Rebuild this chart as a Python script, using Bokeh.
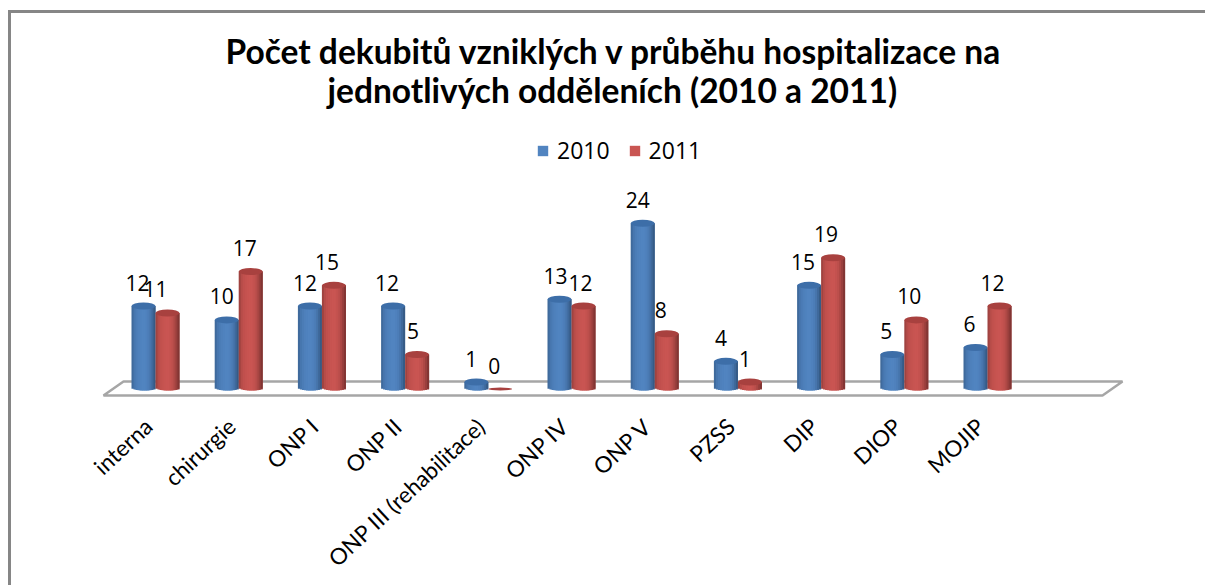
import math
from bokeh.plotting import figure
from bokeh.models import Range1d, FixedTicker, ColumnDataSource, Legend, LegendItem, Title, InlineStyleSheet
from bokeh.core.properties import value
from bokeh.embed import file_html
from bokeh.resources import INLINE

categories = ["interna", "chirurgie", "ONP I", "ONP II", "ONP III (rehabilitace)", "ONP IV", "ONP V", "PZSS", "DIP", "DIOP", "MOJIP"]
v2010 = [12, 10, 12, 12, 1, 13, 24, 4, 15, 5, 6]
v2011 = [11, 17, 15, 5, 0, 12, 8, 1, 19, 10, 12]
label_dx_2010 = [-6, -5, -5, -6, -5, -4, -5, -5, -6, -6, -6]
label_dx_2011 = [-12, -6, -7, -4, -6, -3, -6, -5, -7, -7, -7]

blue_shades = ["#3f6a9c", "#4776ae", "#4b7cb6", "#4e80bb", "#4f82be", "#5184c0", "#5184c0", "#4f81bd", "#4c7db7", "#4775ac", "#3f699b", "#365b86"]
red_shades = ["#a04340", "#b64c49", "#c0504d", "#c4524f", "#c75451", "#c95552", "#c95552", "#c4524f", "#bc4f4c", "#ad4845", "#993f3d", "#823533"]
blue_top, red_top = "#3d6ea8", "#a8413f"

W, H = 1205, 585
FT, FB = 109, 398          # frame top/bottom in figure px
PX_PER_CAT, PX_PER_UNIT = 83.2, 6.91
CX, CY = 155.0, 388.5      # position of first category, zero level in figure px
BAR_PX = 24

x_range = Range1d(-CX / PX_PER_CAT, (W - CX) / PX_PER_CAT)
y_range = Range1d((CY - FB) / PX_PER_UNIT, (CY - FT) / PX_PER_UNIT)

frame_css = InlineStyleSheet(css=""":host::before { content: ""; position: absolute; left: 8px; top: 10px; right: 0; bottom: 0;
  border-left: 3px solid #868686; border-top: 3px solid #868686; z-index: 5; pointer-events: none; }""")

p = figure(width=W, height=H, x_range=x_range, y_range=y_range, output_backend="svg", toolbar_location=None,
           min_border_left=0, min_border_right=0, min_border_top=FT, min_border_bottom=H - FB,
           background_fill_color="white", border_fill_color="white", outline_line_color=None,
           stylesheets=[frame_css])
p.grid.visible = False
p.yaxis.visible = False

for line, off, so in (("jednotlivých odděleních (2010 a 2011)", 327, 0),
                      ("Počet dekubitů vzniklých v průběhu hospitalizace na", 225, -7)):
    p.add_layout(Title(text=line, align="left", offset=off, text_font="Lato", text_font_size="33.5px",
                       text_font_style="bold", text_color="#000000", standoff=so), "above")

# the category axis sits just left of the centre of each group
c = 1 / PX_PER_CAT
p.extra_x_ranges["labels"] = Range1d(x_range.start + 7 * c, x_range.end + 7 * c)
ax = p.xaxis[0]
ax.x_range_name = "labels"
ax.ticker = FixedTicker(ticks=list(range(len(categories))))
ax.major_label_overrides = {i: t for i, t in enumerate(categories)}
ax.major_label_orientation = 0.75
ax.major_label_text_font = "Lato"
ax.major_label_text_font_size = "22.5px"
ax.major_label_text_color = "#000000"
ax.major_label_standoff = 18
ax.axis_line_color = None
ax.major_tick_line_color = None
ax.minor_tick_line_color = None

# floor of the 3-D plot
n = len(categories)
u = 1 / PX_PER_UNIT
fy = [-6.5 * u, 7.5 * u, 7.5 * u, -6.5 * u]
fx = [-52 * c, -32 * c, 967 * c, 947 * c]
p.patch(fx, fy, fill_color="#ffffff", line_color="#a6a6a6", line_width=2.5)


def cylinder(vals, dx_px, shades, top_color):
    k = len(shades)
    centres = [i + dx_px * c for i in range(n)]
    w_units = BAR_PX * c
    h_units = 7 * u
    strip = w_units / k
    shown = [v for v in vals]
    mid = None
    for j, col in enumerate(shades):
        span = 2 if j < k - 1 else 1   # overlaps the next strip, so no seams appear
        left = -0.5 * w_units + j * strip
        xs = [x + left + span * strip / 2 for x in centres]
        off = (j + 0.5) / k - 0.5
        half = math.sqrt(max(0.0, 0.25 - off * off))
        tops = [v if v > 0 else None for v in shown]
        base = [(1.5 - 6 * half) * u if v > 0 else None for v in shown]
        r = p.vbar(x=xs, top=tops, bottom=base, width=span * strip, fill_color=col, line_color=None)
        if j == k // 2:
            mid = r
    heights = [h_units if v > 0 else h_units * 0.45 for v in vals]
    p.ellipse(centres, vals, width=w_units, height=heights, fill_color=top_color, line_color=None)
    return mid


r1 = cylinder(v2010, -12, blue_shades, blue_top)
r2 = cylinder(v2011, 12, red_shades, red_top)

for vals, dx_list, off in ((v2010, label_dx_2010, -12), (v2011, label_dx_2011, 12)):
    src = ColumnDataSource(dict(x=[i + off * c for i in range(n)], y=vals, t=[str(v) for v in vals],
                                dx=dx_list))
    p.text("x", "y", text="t", source=src, x_offset="dx", y_offset=-23.5, text_align="center", text_baseline="middle",
           text_font=value("Open Sans"), text_font_size="21px", text_color="#000000")

legend = Legend(items=[LegendItem(label="2010", renderers=[r1]), LegendItem(label="2011", renderers=[r2])],
                orientation="horizontal", location=(536, FB - 166), border_line_color=None,
                background_fill_alpha=0, label_text_font="Open Sans", label_text_font_size="23px",
                label_text_color="#000000", glyph_width=13, glyph_height=13, spacing=18, padding=0, margin=0,
                label_standoff=8, label_height=20)
p.add_layout(legend, "center")

open("out.html", "w").write(file_html(p, INLINE))
